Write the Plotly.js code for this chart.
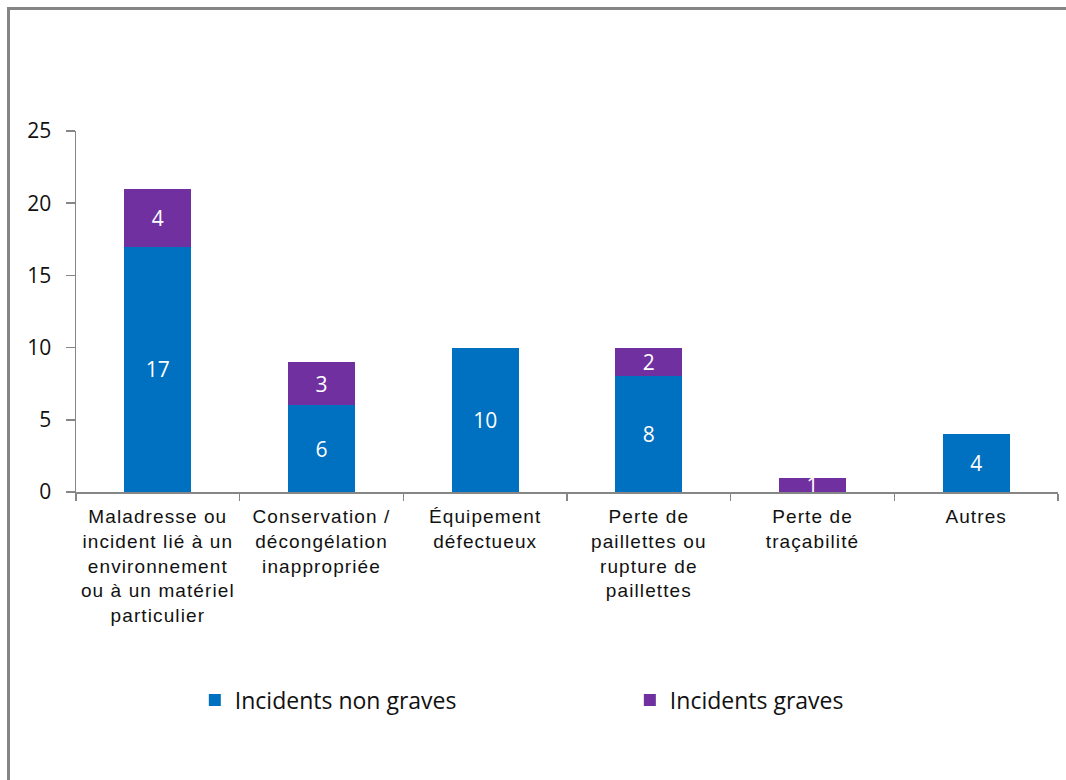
<!DOCTYPE html>
<html>
<head>
<meta charset="utf-8">
<script src="https://cdn.plot.ly/plotly-3.0.1.min.js"></script>
<style>
  html, body { margin: 0; padding: 0; background: #fff; }
  #wrap { position: relative; width: 1066px; height: 780px; overflow: hidden; }
  #chart { position: absolute; left: 0; top: 0; width: 1066px; height: 780px; }
  #frame { position: absolute; left: 7px; top: 7px; width: 1200px; height: 900px;
           border-left: 3px solid #858585; border-top: 3px solid #858585; pointer-events: none; }
  #chart .xtick text { letter-spacing: 1.1px; }
</style>
</head>
<body>
<div id="wrap">
  <div id="chart"></div>
  <div id="frame"></div>
</div>
<script>
const categories = [
  "Maladresse ou<br>incident lié à un<br>environnement<br>ou à un matériel<br>particulier",
  "Conservation /<br>décongélation<br>inappropriée",
  "Équipement<br>défectueux",
  "Perte de<br>paillettes ou<br>rupture de<br>paillettes",
  "Perte de<br>traçabilité",
  "Autres"
];
const nonGraves = [17, 6, 10, 8, 0, 4];
const graves = [4, 3, 0, 2, 1, 0];
const seriesNames = ["Incidents non graves", "Incidents graves"];
const yTicks = [0, 5, 10, 15, 20, 25];

const labelFont = {family: "'Open Sans', Lato, sans-serif", size: 21, color: "#ffffff"};

function mk(name, vals, color, legendId) {
  return {
    type: "bar",
    name: name,
    legend: legendId,
    x: categories,
    y: vals,
    text: vals.map(v => v > 0 ? String(v) : ""),
    textposition: "inside",
    insidetextanchor: "middle",
    textangle: 0,
    constraintext: "none",
    cliponaxis: false,
    textfont: labelFont,
    marker: {color: color, line: {width: 0}},
    hoverinfo: "x+y+name"
  };
}

const data = [
  mk(seriesNames[0], nonGraves, "#0070C0", "legend"),
  mk(seriesNames[1], graves, "#7030A0", "legend2")
];

const legendFont = {family: "'Open Sans', Lato, sans-serif", size: 23, color: "#111111"};

const layout = {
  width: 1066,
  height: 780,
  margin: {l: 76, r: 8, t: 131, b: 288, pad: 0},
  paper_bgcolor: "#ffffff",
  plot_bgcolor: "#ffffff",
  barmode: "stack",
  bargap: 0.59,
  showlegend: true,
  legend: {
    orientation: "h",
    x: 0.121,
    xanchor: "left",
    y: -0.576,
    yanchor: "middle",
    font: legendFont,
    bgcolor: "rgba(0,0,0,0)"
  },
  legend2: {
    orientation: "h",
    x: 0.564,
    xanchor: "left",
    y: -0.576,
    yanchor: "middle",
    font: legendFont,
    bgcolor: "rgba(0,0,0,0)"
  },
  xaxis: {
    type: "category",
    showline: true,
    linecolor: "#868686",
    linewidth: 1.5,
    ticks: "outside",
    tickson: "boundaries",
    ticklen: 7,
    tickcolor: "#868686",
    tickwidth: 1.5,
    showgrid: false,
    zeroline: false,
    ticklabelstandoff: 7,
    tickfont: {family: "'Liberation Sans', Arial, sans-serif", size: 19, color: "#111111"},
    tickangle: 0,
    fixedrange: true
  },
  yaxis: {
    range: [0, 25],
    tickvals: yTicks,
    ticktext: yTicks.map(String),
    showline: true,
    linecolor: "#868686",
    linewidth: 1.5,
    ticks: "outside",
    ticklen: 9,
    tickcolor: "#868686",
    tickwidth: 1.5,
    showgrid: false,
    zeroline: false,
    ticklabelstandoff: 10,
    tickfont: {family: "'Open Sans', Lato, sans-serif", size: 21, color: "#111111"},
    fixedrange: true
  }
};

Plotly.newPlot("chart", data, layout, {displayModeBar: false, staticPlot: true});
</script>
</body>
</html>
